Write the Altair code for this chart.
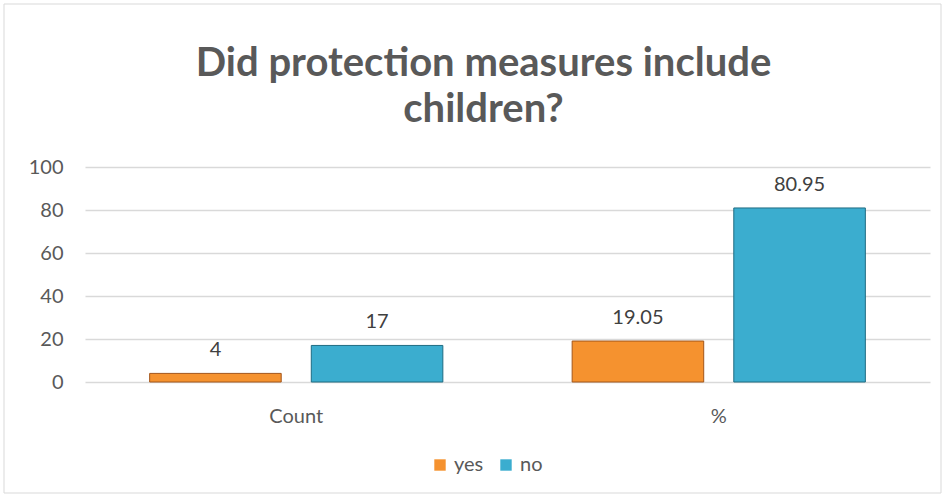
import altair as alt
import pandas as pd

categories = ["Count", "%"]
series = ["yes", "no"]
yes_values = [4, 19.05]
no_values = [17, 80.95]
yes_labels = ["4", "19.05"]
no_labels = ["17", "80.95"]
colors = ["#F5922F", "#3BADCF"]
strokes = ["#A3561A", "#1F6C82"]

rows = []
for i, c in enumerate(categories):
    rows.append({"category": c, "answer": "yes", "value": yes_values[i], "label": yes_labels[i]})
    rows.append({"category": c, "answer": "no", "value": no_values[i], "label": no_labels[i]})
df = pd.DataFrame(rows)

FONT = "Lato"
GRAY = "#595959"
FS = 20

x = alt.X("category:N", sort=categories,
          scale=alt.Scale(paddingInner=0, paddingOuter=0),
          axis=alt.Axis(title=None, labelAngle=0, ticks=False, domain=False,
                        labelPadding=24, labelFontSize=FS, labelColor=GRAY,
                        labelFont=FONT, grid=False))
xoff = alt.XOffset("answer:N", sort=series,
                   scale=alt.Scale(paddingInner=0.186, paddingOuter=0.40))
y = alt.Y("value:Q", scale=alt.Scale(domain=[0, 100], nice=False),
          axis=alt.Axis(title=None, values=[0, 20, 40, 60, 80, 100], ticks=False,
                        domain=False, labelPadding=22, labelFontSize=FS,
                        labelColor=GRAY, labelFont=FONT, gridColor="#D9D9D9",
                        gridWidth=1.5))

color = alt.Color("answer:N", sort=series,
                  scale=alt.Scale(domain=series, range=colors),
                  legend=alt.Legend(title=None, orient="none", direction="horizontal",
                                    legendX=345, legendY=288, symbolType="square",
                                    symbolSize=130, symbolStrokeWidth=0,
                                    labelFontSize=FS, labelColor=GRAY, labelFont=FONT,
                                    columnPadding=12, symbolOpacity=1))

bars = alt.Chart(df).mark_bar(strokeWidth=1).encode(
    x=x, xOffset=xoff, y=y, color=color,
    stroke=alt.Stroke("answer:N", sort=series,
                      scale=alt.Scale(domain=series, range=strokes), legend=None),
)

labels = alt.Chart(df).mark_text(dy=-17, baseline="alphabetic", fontSize=FS,
                                 color="#404040", font=FONT).encode(
    x=x, xOffset=xoff, y=y, text="label:N"
)

border = alt.Chart(pd.DataFrame({"a": [0]})).mark_rect(
    fill=None, stroke="#D9D9D9", strokeWidth=1
).encode(x=alt.value(-81), x2=alt.value(856), y=alt.value(-163), y2=alt.value(326))

chart = alt.layer(border, bars, labels).properties(
    width=845, height=215,
    padding={"left": 85, "top": 167, "right": 16, "bottom": 118},
    autosize=alt.AutoSizeParams(type="none"),
    title=alt.Title(["Did protection measures include", "children?"],
                    anchor="middle", frame="bounds", fontSize=40, font=FONT,
                    fontWeight="bold", color=GRAY, lineHeight=46, offset=-126, dx=11),
    background="white",
).configure_view(stroke=None)

chart.save("out.html", embed_options={"renderer": "svg", "actions": False})
